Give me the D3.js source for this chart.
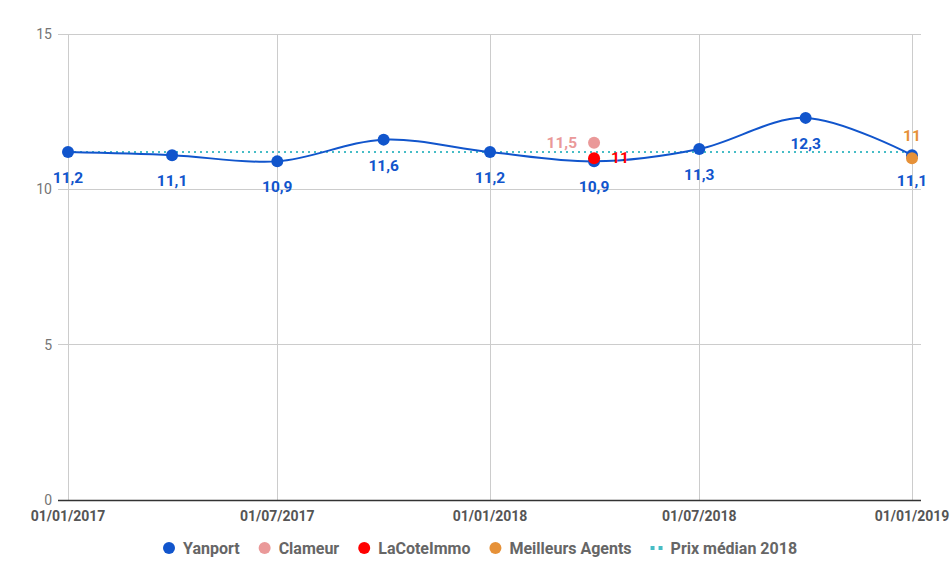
<!DOCTYPE html>
<html><head><meta charset="utf-8">
<script src="https://cdn.jsdelivr.net/npm/d3@7"></script>
<style>body{margin:0;background:#fff;font-family:Roboto,sans-serif}</style>
</head><body><svg id="c" width="951" height="582"></svg>
<script>
const yanportDates = ["2017-01-01","2017-04-01","2017-07-01","2017-10-01","2018-01-01","2018-04-01","2018-07-01","2018-10-01","2019-01-01"];
const yanportValues = [11.2,11.1,10.9,11.6,11.2,10.9,11.3,12.3,11.1];
const clameurDates = ["2018-04-01"], clameurValues = [11.5];
const coteDates = ["2018-04-01"], coteValues = [11];
const maDates = ["2019-01-01"], maValues = [11];
const medianDates = ["2017-01-01","2019-01-01"], medianValues = [11.2,11.2];
const xTicks = ["2017-01-01","2017-07-01","2018-01-01","2018-07-01","2019-01-01"];
const yTicks = [0,5,10,15];
const legendNames = ["Yanport","Clameur","LaCoteImmo","Meilleurs Agents","Prix médian 2018"];
const colors = ["#1155cc","#ea9999","#ff0000","#e69138","#46bdc6"];

const p = d3.timeParse("%Y-%m-%d");
const fmtX = d3.timeFormat("%d/%m/%Y");
const fmtV = v => String(v).replace(".", ",");
const svg = d3.select("#c");
const L = 68, R = 921, T = 34, B = 500;
const x = d3.scaleTime().domain([p("2017-01-01"), p("2019-01-01")]).range([L, 912]);
const y = d3.scaleLinear().domain([0,15]).range([B, T]);

svg.append("g").selectAll("line").data(yTicks.filter(d=>d>0)).join("line")
  .attr("x1", L-10).attr("x2", R).attr("y1", d=>y(d)).attr("y2", d=>y(d))
  .attr("stroke","#cccccc").attr("stroke-width",1).attr("shape-rendering","crispEdges");
svg.append("g").selectAll("line").data(xTicks).join("line")
  .attr("x1", d=>Math.round(x(p(d)))+0.5).attr("x2", d=>Math.round(x(p(d)))+0.5).attr("y1", T).attr("y2", B)
  .attr("stroke","#cccccc").attr("stroke-width",1);
svg.append("g").selectAll("text").data(yTicks).join("text")
  .attr("x", L-16).attr("y", d=>y(d)+5).attr("text-anchor","end")
  .attr("font-size",14).attr("fill","#757575").text(d=>d);
svg.append("line").attr("x1", L-10).attr("x2", R).attr("y1", B+0.5).attr("y2", B+0.5)
  .attr("stroke","#333").attr("stroke-width",1.5);
svg.append("g").selectAll("text").data(xTicks).join("text")
  .attr("x", d=>x(p(d))).attr("y", 521).attr("text-anchor","middle")
  .attr("font-size",14).attr("font-weight","bold").attr("fill","#555")
  .text(d=>fmtX(p(d)));

const line = d3.line().x(d=>x(d[0])).y(d=>y(d[1]));
svg.append("path").datum(medianDates.map((d,i)=>[p(d),medianValues[i]]))
  .attr("d", line).attr("fill","none").attr("stroke",colors[4]).attr("stroke-width",2)
  .attr("stroke-dasharray","2,4");

const yData = yanportDates.map((d,i)=>[p(d),yanportValues[i]]);
svg.append("path").datum(yData)
  .attr("d", d3.line().curve(d3.curveCatmullRom.alpha(0.5)).x(d=>x(d[0])).y(d=>y(d[1])))
  .attr("fill","none").attr("stroke",colors[0]).attr("stroke-width",2);
svg.append("g").selectAll("circle").data(yData).join("circle")
  .attr("cx", d=>x(d[0])).attr("cy", d=>y(d[1])).attr("r",6).attr("fill",colors[0]);
svg.append("g").selectAll("text").data(yData).join("text")
  .attr("x", d=>x(d[0])).attr("y", d=>y(d[1])+31).attr("text-anchor","middle")
  .attr("font-size",15.5).attr("font-weight","bold").attr("fill",colors[0]).text(d=>fmtV(d[1]));

function single(dates, vals, color, anchor, dx, dy){
  const d = dates.map((t,i)=>[p(t),vals[i]]);
  svg.append("g").selectAll("circle").data(d).join("circle")
    .attr("cx", e=>x(e[0])).attr("cy", e=>y(e[1])).attr("r",6).attr("fill",color);
  svg.append("g").selectAll("text").data(d).join("text")
    .attr("x", e=>x(e[0])+dx).attr("y", e=>y(e[1])+dy).attr("text-anchor",anchor)
    .attr("font-size",15.5).attr("font-weight","bold").attr("fill",color).text(e=>fmtV(e[1]));
}
single(clameurDates, clameurValues, colors[1], "end", -17, 5);
single(coteDates, coteValues, colors[2], "start", 17, 5);
single(maDates, maValues, colors[3], "middle", 0, -17);

const lg = svg.append("g");
let cx = 169;
legendNames.forEach((n,i)=>{
  if(i<4){
    lg.append("circle").attr("cx",cx).attr("cy",548).attr("r",6).attr("fill",colors[i]);
  } else {
    lg.append("line").attr("x1",cx-6).attr("x2",cx+6).attr("y1",548).attr("y2",548)
      .attr("stroke",colors[i]).attr("stroke-width",4).attr("stroke-dasharray","4,4");
  }
  const t = lg.append("text").attr("x",cx+14).attr("y",554).attr("font-size",16)
    .attr("font-weight","bold").attr("fill","#666").text(n);
  cx += 14 + t.node().getComputedTextLength() + 25;
});
</script></body></html>
